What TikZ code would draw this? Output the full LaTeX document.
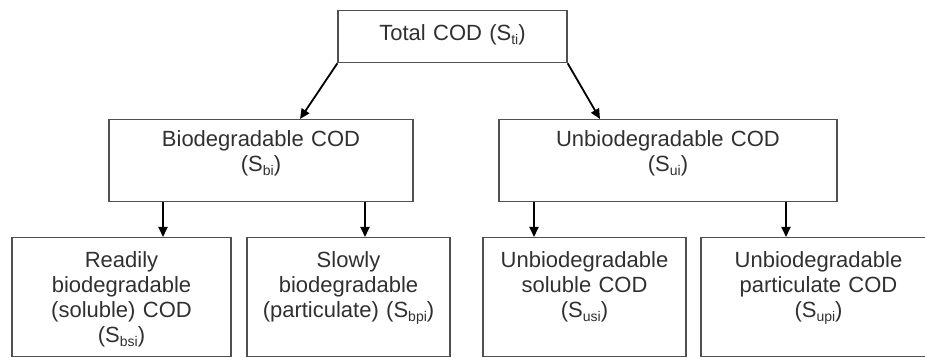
\documentclass[tikz,border=0pt]{standalone}
\usepackage{fontspec}
\setmainfont{Liberation Sans}
\usetikzlibrary{arrows.meta}
\definecolor{boxgray}{HTML}{505050}
\definecolor{textgray}{HTML}{303030}
\newcommand{\codsub}[1]{\raisebox{-0.35ex}{\fontsize{14}{14}\selectfont #1}}
\tikzset{
    codbox/.style={draw=boxgray, line width=1.3pt, inner sep=0pt, anchor=north,
        align=center, text=textgray, font=\fontsize{22}{25}\selectfont},
    topbox/.style={codbox, text height=30pt, text depth=22pt},
    midbox/.style={codbox, text height=27pt, text depth=55pt},
    leafbox/.style={codbox, text height=30pt, text depth=89pt},
    arr/.style={-{Triangle[length=10pt,width=9pt]}, line width=1.8pt}
}
\begin{document}
\begin{tikzpicture}[x=1pt,y=1pt]
                \useasboundingbox (0,0) rectangle (925,358);

                \node[topbox, text width=229pt] (tot) at (452.5,348) {Total COD (S\codsub{ti})};

                \node[midbox, text width=304pt] (bio) at (261,239) {Biodegradable COD\\(S\codsub{bi})};
                \node[midbox, text width=338pt] (unbio) at (668,239) {Unbiodegradable COD\\(S\codsub{ui})};

                \node[leafbox, text width=219pt] (rbcod) at (121.5,121) {Readily\\biodegradable\\(soluble) COD\\(S\codsub{bsi})};
                \node[leafbox, text width=203pt] (sbcod) at (348.5,121) {Slowly\\biodegradable\\(particulate) (S\codsub{bpi})};
                \node[leafbox, text width=203pt] (usol) at (584.5,121) {Unbiodegradable\\soluble COD\\(S\codsub{usi})};
                \node[leafbox, text width=235pt] (upart) at (818.5,121) {Unbiodegradable\\particulate COD\\(S\codsub{upi})};

                \draw[arr] (tot.south west) to ([xshift=39pt]bio.north);
                \draw[arr] (tot.south east) to ([xshift=-68pt]unbio.north);

                \draw[arr] ([xshift=-98pt]bio.south) coordinate (b1) to (b1 |- rbcod.north);
                \draw[arr] ([xshift=104pt]bio.south) coordinate (b2) to (b2 |- sbcod.north);
                \draw[arr] ([xshift=-134pt]unbio.south) coordinate (u1) to (u1 |- usol.north);
                \draw[arr] ([xshift=118pt]unbio.south) coordinate (u2) to (u2 |- upart.north);
            \end{tikzpicture}
\end{document}
